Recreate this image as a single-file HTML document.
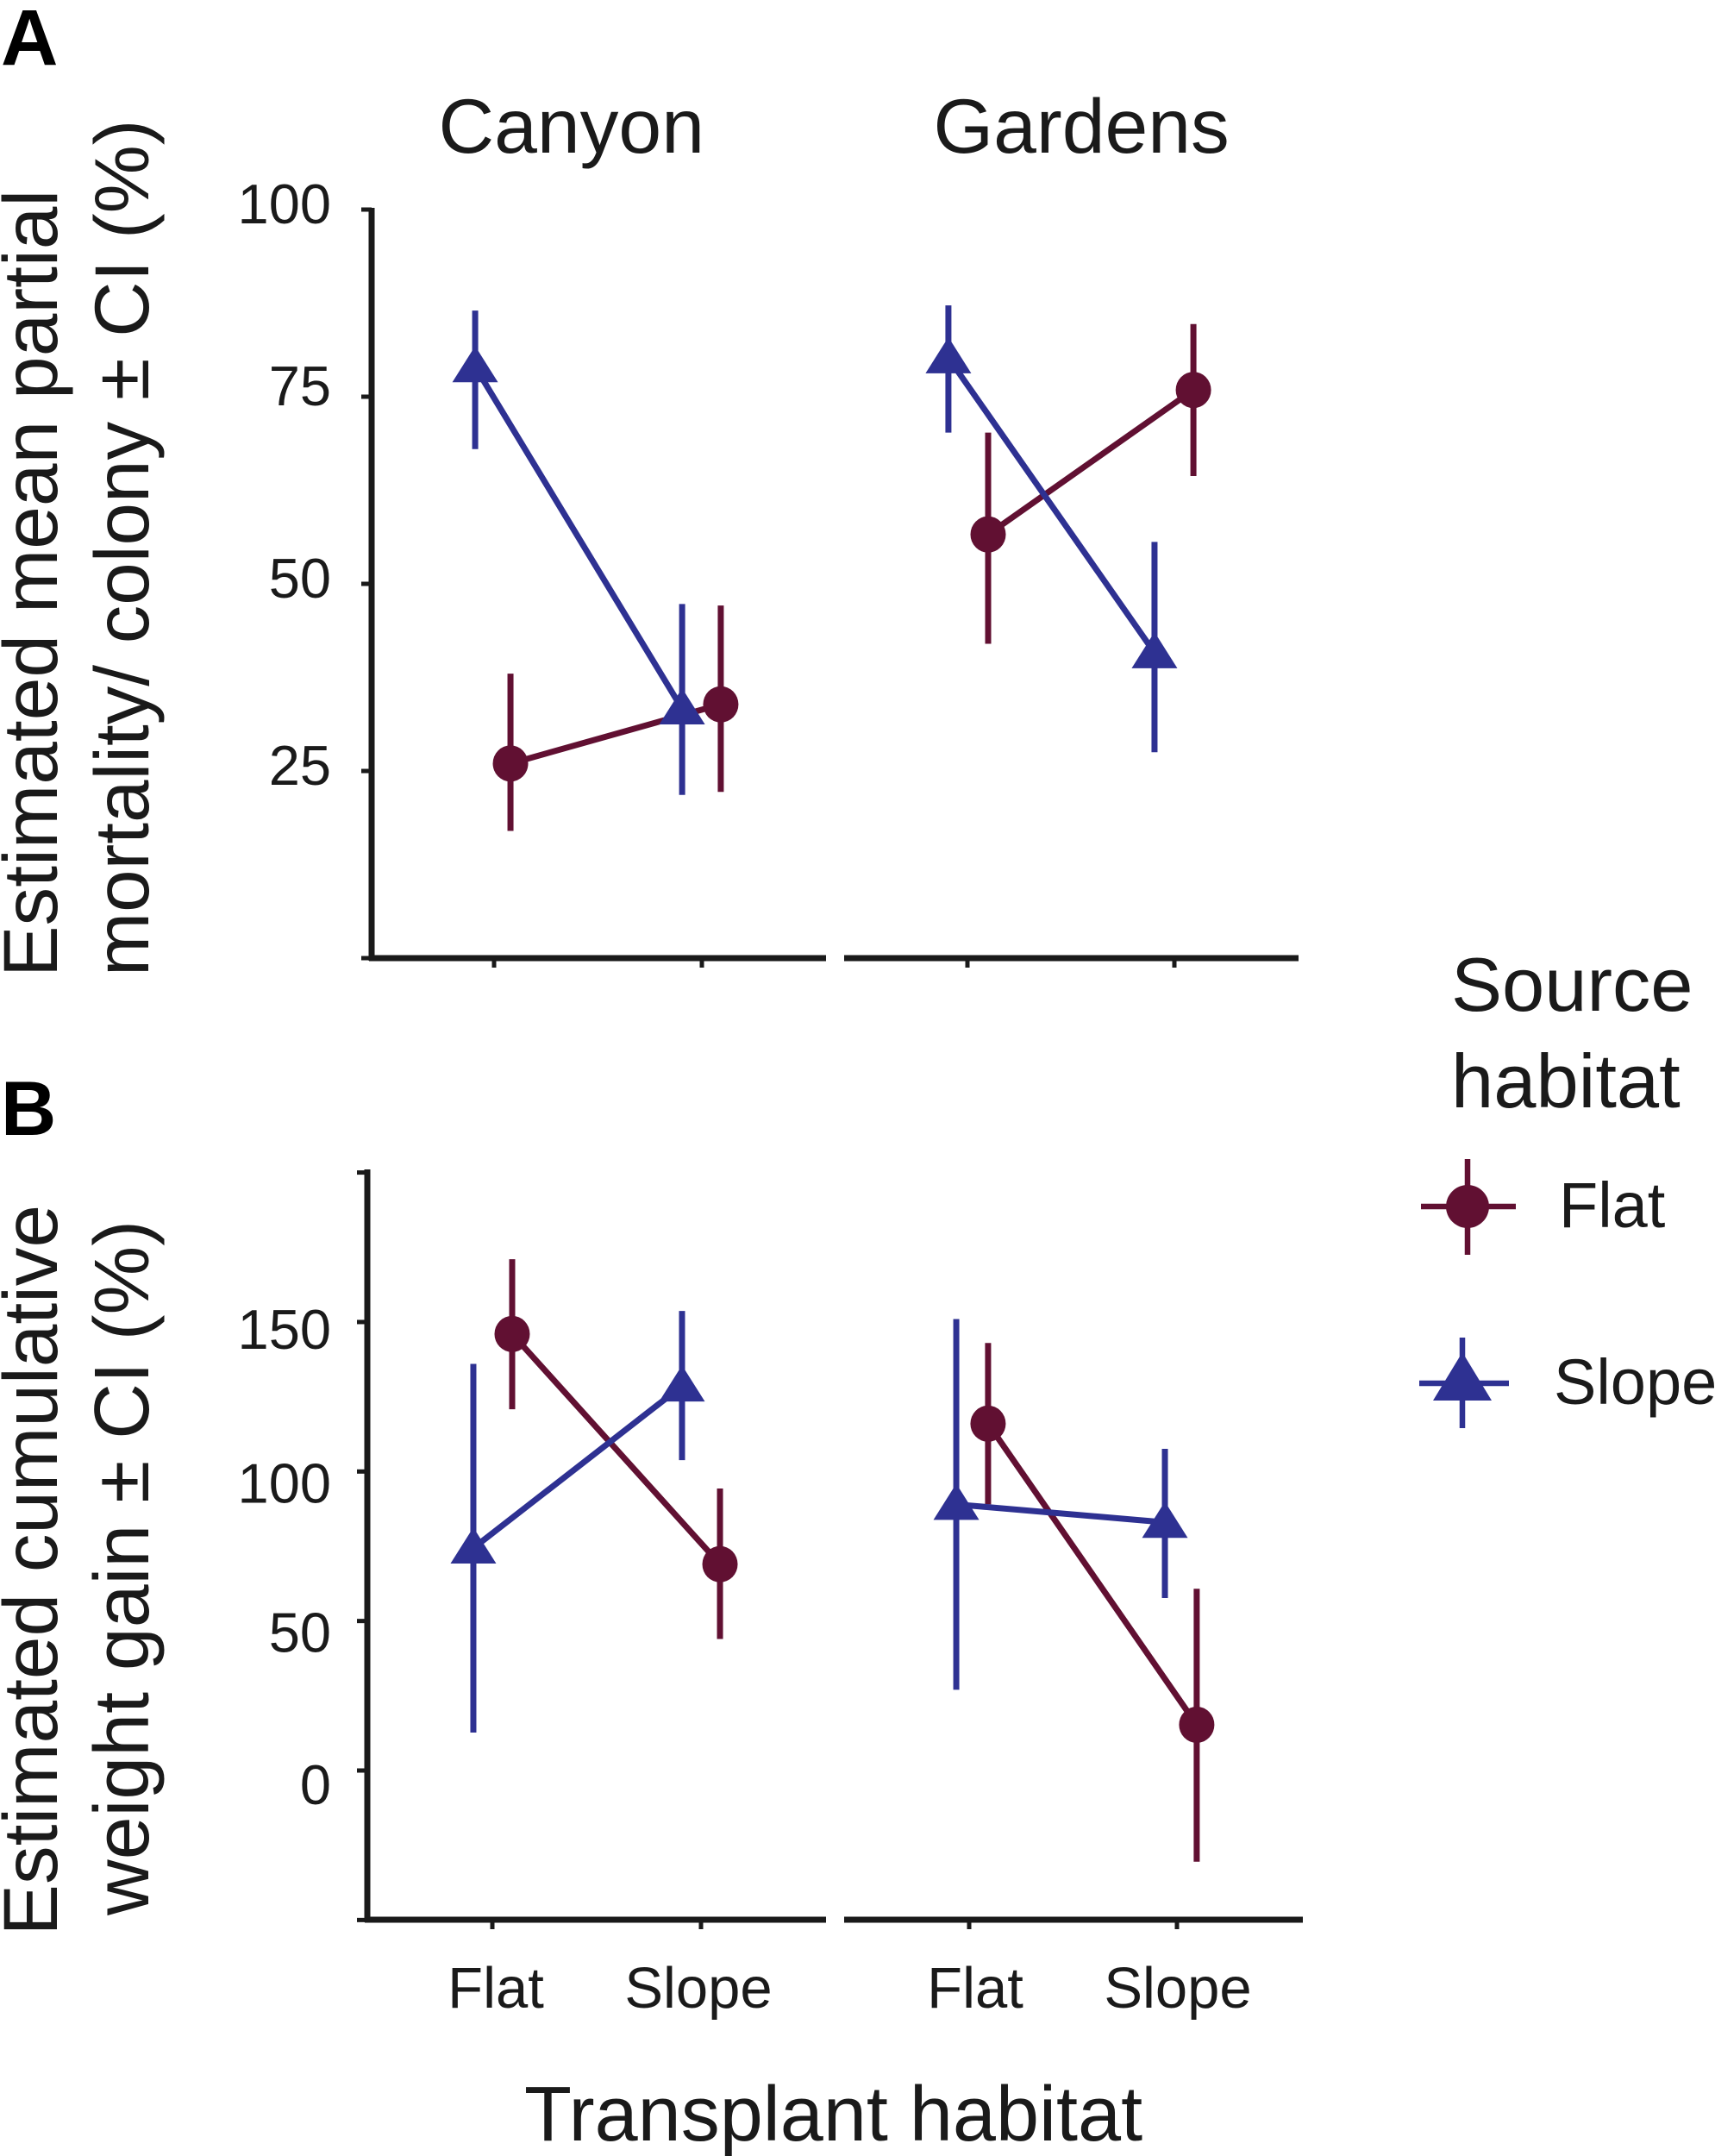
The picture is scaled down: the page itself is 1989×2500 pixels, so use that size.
<!DOCTYPE html>
<html lang="en">
<head>
<meta charset="utf-8">
<title>Estimated mortality and weight gain by transplant and source habitat</title>
<style>
html,body{margin:0;padding:0;background:#fff;}
svg{display:block;}
text{font-family:"Liberation Sans",Arial,sans-serif;fill:#1a1a1a;}
</style>
</head>
<body>
<svg id="chart" xmlns="http://www.w3.org/2000/svg" width="1989" height="2500" viewBox="0 0 1989 2500">
  <rect x="0" y="0" width="1989" height="2500" fill="#fff"/>
  <text x="1" y="75" font-size="92" font-weight="700" style="fill:#000">A</text>
  <text x="1" y="1316" font-size="89" font-weight="700" style="fill:#000">B</text>
  <text x="508.5" y="177" font-size="89.5">Canyon</text>
  <text x="1082.5" y="177" font-size="89.5">Gardens</text>
  <text transform="translate(66,1133) rotate(-90)" font-size="89.3">Estimated mean partial</text>
  <text transform="translate(172,1132) rotate(-90)" font-size="89">mortality/ colony ± CI (%)</text>
  <text transform="translate(66,2244.5) rotate(-90)" font-size="89.2">Estimated cumulative</text>
  <text transform="translate(172,2221) rotate(-90)" font-size="89.6">weight gain ± CI (%)</text>
  <text x="608" y="2482" font-size="90">Transplant habitat</text>
  <g>
    <text x="1683" y="1172" font-size="88.5">Source</text>
    <text x="1683" y="1284" font-size="88.5">habitat</text>
    <line x1="1648" y1="1399" x2="1758" y2="1399" stroke="#611032" stroke-width="6.5"/>
    <line x1="1702" y1="1344" x2="1702" y2="1455" stroke="#611032" stroke-width="6.5"/>
    <ellipse cx="1702" cy="1399" rx="25" ry="25" fill="#611032"/>
    <text x="1808" y="1423" font-size="74">Flat</text>
    <line x1="1646" y1="1604" x2="1750" y2="1604" stroke="#2e3192" stroke-width="6.5"/>
    <line x1="1696" y1="1551" x2="1696" y2="1656" stroke="#2e3192" stroke-width="6.5"/>
    <polygon points="1696,1568 1730,1624 1662,1624" fill="#2e3192"/>
    <text x="1802" y="1628" font-size="74">Slope</text>
  </g>
</svg>
<script>
// Categories and axis ticks
const categories = ['Flat', 'Slope'];
const mortalityTicks = [0, 25, 50, 75, 100];
const mortalityTickLabels = ['', '25', '50', '75', '100'];
const weightTicks = [-50, 0, 50, 100, 150, 200];
const weightTickLabels = ['', '0', '50', '100', '150', ''];

// Panel A, Canyon (x in category units: 0 = Flat, 1 = Slope)
const mortCanyonFlatX = [0.079, 1.091];
const mortCanyonFlatMean = [26, 33.9];
const mortCanyonFlatLow = [17, 22.2];
const mortCanyonFlatHigh = [38, 47.1];
const mortCanyonSlopeX = [-0.091, 0.905];
const mortCanyonSlopeMean = [79, 33.3];
const mortCanyonSlopeLow = [68, 21.8];
const mortCanyonSlopeHigh = [86.5, 47.3];

// Panel A, Gardens
const mortGardensFlatX = [0.1, 1.092];
const mortGardensFlatMean = [56.6, 75.9];
const mortGardensFlatLow = [42, 64.4];
const mortGardensFlatHigh = [70.2, 84.7];
const mortGardensSlopeX = [-0.092, 0.904];
const mortGardensSlopeMean = [80.2, 40.8];
const mortGardensSlopeLow = [70.2, 27.5];
const mortGardensSlopeHigh = [87.2, 55.6];

// Panel B, Canyon
const weightCanyonFlatX = [0.095, 1.091];
const weightCanyonFlatMean = [146, 69];
const weightCanyonFlatLow = [120.8, 44];
const weightCanyonFlatHigh = [171, 94.3];
const weightCanyonSlopeX = [-0.091, 0.909];
const weightCanyonSlopeMean = [74.4, 128.6];
const weightCanyonSlopeLow = [12.7, 103.8];
const weightCanyonSlopeHigh = [136, 153.7];

// Panel B, Gardens
const weightGardensFlatX = [0.091, 1.095];
const weightGardensFlatMean = [116, 15.3];
const weightGardensFlatLow = [89, -30.5];
const weightGardensFlatHigh = [143, 60.8];
const weightGardensSlopeX = [-0.062, 0.942];
const weightGardensSlopeMean = [89, 83];
const weightGardensSlopeLow = [27, 57.7];
const weightGardensSlopeHigh = [151, 107.6];

const FLAT_COLOR = '#611032';
const SLOPE_COLOR = '#2e3192';
const AXIS_COLOR = '#1a1a1a';
const svg = document.getElementById('chart');
const NS = 'http://www.w3.org/2000/svg';

function make(tag, attrs, parent) {
  const el = document.createElementNS(NS, tag);
  for (const k in attrs) el.setAttribute(k, attrs[k]);
  parent.appendChild(el);
  return el;
}

// Axis functions
function yMortality(v) { return 1111 - 8.68 * v; }
function yWeight(v) { return 2053 - 3.467 * v; }
function linearX(origin, spacing) { return function (v) { return origin + spacing * v; }; }

function labelNudge(text) {
  if (text === '75') return -6;
  if (text === '150') return -5;
  if (text === '0') return 3;
  return 0;
}

function drawYAxis(prefix, axisX, top, bottom, ticks, labels, yScale, labelOffset) {
  const g = make('g', {}, svg);
  
  
  const axisLine = make('line', { x1: axisX, y1: top - 3, x2: axisX, y2: bottom + 3, stroke: AXIS_COLOR, 'stroke-width': 7 }, g);
  
  
  ticks.forEach(function (t, i) {
    const y = yScale(t);
    const tick = make('line', { x1: axisX - 12, y1: y, x2: axisX, y2: y, stroke: AXIS_COLOR, 'stroke-width': 5 }, g);
    
    
    if (labels[i]) {
      const label = make('text', { x: 384, y: y + labelOffset + labelNudge(labels[i]), 'font-size': 65, 'text-anchor': 'end' }, g);
      label.textContent = labels[i];
      
      
    }
  });
}

function drawXAxis(prefix, x1, x2, y, xScale, labelBaseline, flatLabelShift, slopeLabelShift) {
  const g = make('g', {}, svg);
  
  
  const axisLine = make('line', { x1: x1, y1: y, x2: x2, y2: y, stroke: AXIS_COLOR, 'stroke-width': 7 }, g);
  
  
  categories.forEach(function (c, i) {
    const x = xScale(i);
    const tick = make('line', { x1: x, y1: y, x2: x, y2: y + 11, stroke: AXIS_COLOR, 'stroke-width': 5 }, g);
    
    
    if (labelBaseline) {
      const shift = i === 0 ? flatLabelShift : slopeLabelShift;
      const label = make('text', { x: x + shift, y: labelBaseline, 'font-size': 67, 'text-anchor': 'middle' }, g);
      label.textContent = c;
      
      
    }
  });
}

function drawSeries(prefix, kind, color, xs, means, lows, highs, xScale, yScale) {
  const g = make('g', {}, svg);
  
  
  const connector = make('line', {
    x1: xScale(xs[0]), y1: yScale(means[0]),
    x2: xScale(xs[1]), y2: yScale(means[1]),
    stroke: color, 'stroke-width': 7
  }, g);
  
  
  xs.forEach(function (xv, i) {
    const x = xScale(xv);
    const y = yScale(means[i]);
    const bar = make('line', { x1: x, y1: yScale(lows[i]), x2: x, y2: yScale(highs[i]), stroke: color, 'stroke-width': 7 }, g);
    
    
    let marker;
    if (kind === 'flat') {
      marker = make('ellipse', { cx: x, cy: y, rx: 20.5, ry: 21, fill: color }, g);
    } else {
      marker = make('polygon', {
        points: x + ',' + (y - 24) + ' ' + (x + 26.5) + ',' + (y + 18) + ' ' + (x - 26.5) + ',' + (y + 18),
        fill: color
      }, g);
    }
    
    
  });
}

// Panel A
const xMortCanyon = linearX(573, 241);
const xMortGardens = linearX(1122, 240);
drawYAxis('mortality', 431, 244, 1111, mortalityTicks, mortalityTickLabels, yMortality, 16);
drawXAxis('mortality-canyon', 428, 958, 1111, xMortCanyon, 0, 0, 0);
drawXAxis('mortality-gardens', 979, 1506, 1111, xMortGardens, 0, 0, 0);
drawSeries('mortality-canyon', 'flat', FLAT_COLOR, mortCanyonFlatX, mortCanyonFlatMean, mortCanyonFlatLow, mortCanyonFlatHigh, xMortCanyon, yMortality);
drawSeries('mortality-canyon', 'slope', SLOPE_COLOR, mortCanyonSlopeX, mortCanyonSlopeMean, mortCanyonSlopeLow, mortCanyonSlopeHigh, xMortCanyon, yMortality);
drawSeries('mortality-gardens', 'flat', FLAT_COLOR, mortGardensFlatX, mortGardensFlatMean, mortGardensFlatLow, mortGardensFlatHigh, xMortGardens, yMortality);
drawSeries('mortality-gardens', 'slope', SLOPE_COLOR, mortGardensSlopeX, mortGardensSlopeMean, mortGardensSlopeLow, mortGardensSlopeHigh, xMortGardens, yMortality);

// Panel B
const xWeightCanyon = linearX(571, 242);
const xWeightGardens = linearX(1124, 241);
drawYAxis('weight', 426, 1359, 2226, weightTicks, weightTickLabels, yWeight, 36);
drawXAxis('weight-canyon', 423, 958, 2226, xWeightCanyon, 2328, 4, -3);
drawXAxis('weight-gardens', 979, 1511, 2226, xWeightGardens, 2328, 7, 1);
drawSeries('weight-canyon', 'flat', FLAT_COLOR, weightCanyonFlatX, weightCanyonFlatMean, weightCanyonFlatLow, weightCanyonFlatHigh, xWeightCanyon, yWeight);
drawSeries('weight-canyon', 'slope', SLOPE_COLOR, weightCanyonSlopeX, weightCanyonSlopeMean, weightCanyonSlopeLow, weightCanyonSlopeHigh, xWeightCanyon, yWeight);
drawSeries('weight-gardens', 'flat', FLAT_COLOR, weightGardensFlatX, weightGardensFlatMean, weightGardensFlatLow, weightGardensFlatHigh, xWeightGardens, yWeight);
drawSeries('weight-gardens', 'slope', SLOPE_COLOR, weightGardensSlopeX, weightGardensSlopeMean, weightGardensSlopeLow, weightGardensSlopeHigh, xWeightGardens, yWeight);
</script>
</body>
</html>
